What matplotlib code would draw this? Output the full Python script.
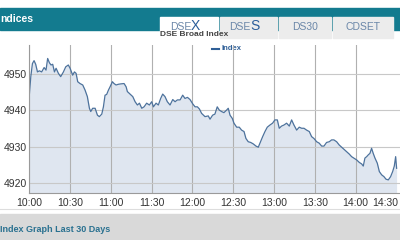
import matplotlib
matplotlib.use("Agg")
import matplotlib.pyplot as plt
from matplotlib.patches import Rectangle

plt.rcParams['font.family'] = ['Liberation Sans', 'DejaVu Sans']

# minutes since 10:00 and index value
minutes = [0, 1.1, 2.3, 3.5, 4.7, 6.0, 7.4, 9.1, 10.9, 12.3, 13.5, 14.8, 16.0, 17.2,
           18.5, 19.7, 21.4, 23.1, 25.1, 26.8, 28.7, 30.0, 31.9, 33.2, 34.4, 35.6,
           37.3, 39.3, 41.0, 42.7, 44.2, 45.2, 46.6, 48.4, 50.1, 51.5, 53.3, 54.5,
           55.7, 56.9, 58.2, 59.4, 61.1, 62.3, 63.8, 65.5, 67.2, 69.7, 71.2, 72.1,
           74.1, 76.1, 77.8, 79.5, 81.0, 82.7, 84.4, 86.3, 88.3, 90.0, 91.3, 93.2,
           94.9, 96.6, 98.1, 99.8, 101.5, 103.5, 105.5, 107.2, 108.9, 110.9, 112.8,
           114.5, 116.3, 118.2, 120.2, 121.9, 123.6, 125.1, 126.7, 129.2, 131.6,
           132.9, 134.8, 136.5, 138.2, 139.7, 141.4, 143.1, 145.1, 146.3, 147.6,
           149.3, 150.5, 152.5, 154.4, 156.1, 157.9, 159.3, 161.0, 162.8, 164.7,
           166.7, 168.4, 169.6, 171.6, 173.3, 175.0, 177.0, 178.9, 180.6, 182.4,
           183.8, 185.5, 187.3, 189.2, 191.2, 192.9, 194.6, 196.6, 198.5, 200.3,
           202.0, 203.9, 205.9, 207.6, 209.3, 211.3, 213.2, 215.0, 216.7, 218.6,
           220.6, 222.3, 224.0, 226.0, 227.9, 229.7, 231.4, 233.3, 235.3, 237.0,
           238.7, 240.7, 242.7, 244.4, 245.6, 246.8, 248.1, 249.3, 250.5, 251.7,
           252.9, 254.2, 255.9, 257.4, 259.1, 260.8, 262.3, 264.0, 265.7, 267.2,
           268.4, 269.4, 270.1]
index_values = [4944.2, 4949.3, 4952.9, 4953.7, 4952.7, 4950.6, 4950.9, 4950.6, 4951.8,
                4951.1, 4954.3, 4953.1, 4952.5, 4952.7, 4950.6, 4951.6, 4950.2, 4949.3,
                4950.6, 4952.0, 4952.5, 4951.6, 4949.7, 4950.6, 4950.2, 4947.9, 4947.4,
                4947.0, 4945.6, 4943.8, 4940.6, 4939.7, 4940.6, 4940.6, 4938.7, 4938.3,
                4939.0, 4941.0, 4944.2, 4944.4, 4945.6, 4946.5, 4947.9, 4947.4, 4947.0,
                4947.2, 4947.3, 4947.4, 4946.5, 4945.2, 4944.5, 4943.8, 4942.4, 4941.5,
                4942.0, 4940.6, 4941.0, 4942.0, 4941.5, 4942.4, 4941.0, 4942.0, 4941.5,
                4943.3, 4944.5, 4943.8, 4942.4, 4941.5, 4943.0, 4942.4, 4942.9, 4942.9,
                4944.2, 4943.3, 4943.6, 4943.0, 4941.8, 4941.0, 4941.0, 4940.4, 4939.2,
                4938.3, 4938.5, 4937.6, 4938.7, 4939.0, 4941.0, 4940.1, 4939.7, 4939.4,
                4940.1, 4940.6, 4938.7, 4937.8, 4936.5, 4935.4, 4935.4, 4934.6, 4934.2,
                4932.3, 4931.4, 4931.2, 4930.8, 4930.2, 4929.9, 4931.0, 4932.8, 4934.2,
                4935.4, 4936.0, 4936.5, 4937.4, 4937.4, 4935.1, 4935.7, 4936.0, 4936.5,
                4935.7, 4937.4, 4936.0, 4934.6, 4935.4, 4935.1, 4935.1, 4934.6, 4934.2,
                4932.8, 4932.3, 4931.4, 4931.0, 4930.2, 4930.2, 4931.2, 4931.4, 4931.9,
                4931.9, 4931.4, 4930.5, 4929.9, 4929.3, 4928.7, 4928.0, 4927.3, 4926.9,
                4926.4, 4925.7, 4925.3, 4924.7, 4926.9, 4927.3, 4927.8, 4928.2, 4929.6,
                4928.2, 4926.9, 4925.5, 4923.2, 4922.3, 4921.8, 4921.1, 4920.9, 4921.8,
                4923.2, 4924.7, 4927.3, 4924.1]

tick_minutes = [0, 30, 60, 90, 120, 150, 180, 210, 240, 270]
tick_labels = ["10:00", "10:30", "11:00", "11:30", "12:00", "12:30",
               "13:00", "13:30", "14:00", "14:30"]
y_ticks = [4920, 4930, 4940, 4950]
tab_names = [("DSE", "X"), ("DSE", "S"), ("DS30", ""), ("CDSET", "")]

W, H = 400, 240
fig = plt.figure(figsize=(4, 2.4), dpi=100)
fig.patch.set_facecolor("white")

# decoracio de la pagina, en pixels
bg = fig.add_axes([0, 0, 1, 1])
bg.set_xlim(0, W)
bg.set_ylim(H, 0)
bg.axis("off")
teal = "#137b8f"
bg.add_patch(Rectangle((0, 8), W, 22, color=teal))
bg.text(0, 19, "ndices", color="white", fontsize=7.5, fontweight="bold", va="center")
tabs_x = [160, 220, 279, 333]
tabs_w = [58, 57, 52, 60]
for (base, big), tx, tw, i in zip(tab_names, tabs_x, tabs_w, range(4)):
    col = "white" if i == 0 else "#ececec"
    bg.add_patch(Rectangle((tx, 17), tw, 22 if i == 0 else 21, color=col))
    if big:
        bg.text(tx + tw / 2 + 2, 26.5, base, color="#6a86a8", fontsize=7.5, ha="right", va="center")
        bg.text(tx + tw / 2 + 2, 25.5, big, color="#2a5d9a", fontsize=10, ha="left", va="center")
    else:
        bg.text(tx + tw / 2, 26.5, base, color="#6a86a8", fontsize=7.5, ha="center", va="center")
bg.text(160, 35, "DSE Broad Index", color="#444444", fontsize=6, fontweight="bold", va="center")
bg.plot([212, 219], [49, 49], color="#2f5f97", lw=1.5)
bg.text(221, 49, "Index", color="#2f5f97", fontsize=5.5, fontweight="bold", va="center")
bg.plot([0, W], [209, 209], color="#dddddd", lw=0.8)
bg.add_patch(Rectangle((0, 214), W, 26, color="#d9d9d9"))
bg.text(0, 229, "Index Graph Last 30 Days", color="#2a7190", fontsize=6.5,
        fontweight="bold", va="center")

ax = fig.add_axes([29.3 / W, 1 - 193 / H, 1 - 29.3 / W, (193 - 45) / H])
ax.set_facecolor("none")
ax.fill_between(minutes, index_values, 4917.3, color="#dfe6f0", lw=0)
ax.plot(minutes, index_values, color="#4d729c", lw=0.9)
ax.set_xlim(0, 272.6)
ax.set_ylim(4917.3, 4958.0)
ax.set_xticks(tick_minutes[:-1])
ax.set_yticks(y_ticks)
ax.set_yticklabels([str(v) for v in y_ticks])
ax.set_xticklabels([])
for m, lab in zip(tick_minutes, tick_labels):
    ha = "right" if m == tick_minutes[-1] else "center"
    ax.text(m + (1.5 if ha == "right" else 0), 4914.6, lab, fontsize=7.5, color="#333333",
            ha=ha, va="center")
ax.tick_params(length=0, labelsize=7.5, labelcolor="#333333", pad=2)
ax.grid(axis="y", color="#c8c8c8", lw=0.8)
ax.grid(axis="x", color="#b0b0b0", lw=0.8)
for s in ["top", "right"]:
    ax.spines[s].set_visible(False)
ax.spines["left"].set_color("#9a9a9a")
ax.spines["bottom"].set_color("#9a9a9a")
ax.spines["left"].set_linewidth(0.8)
ax.spines["bottom"].set_linewidth(0.8)

fig.savefig("out.png", dpi=100)
